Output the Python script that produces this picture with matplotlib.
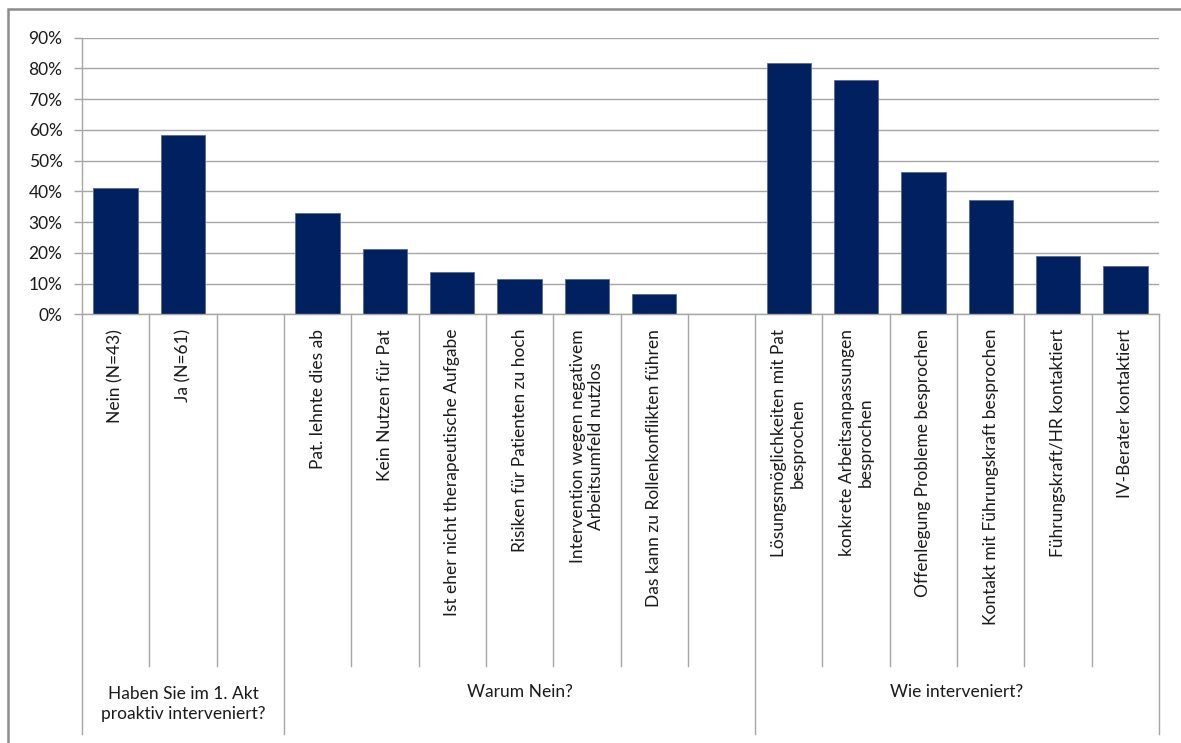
import matplotlib
matplotlib.use("Agg")
import matplotlib.pyplot as plt
import matplotlib.transforms as mtransforms
from matplotlib.ticker import FuncFormatter

# ---- data ----
group_titles = ["Haben Sie im 1. Akt\nproaktiv interveniert?", "Warum Nein?", "Wie interveniert?"]
group1_labels = ["Nein (N=43)", "Ja (N=61)"]
group1_values = [41.0, 58.4]
group2_labels = ["Pat. lehnte dies ab", "Kein Nutzen für Pat", "Ist eher nicht therapeutische Aufgabe",
                 "Risiken für Patienten zu hoch", "Intervention wegen negativem\nArbeitsumfeld nutzlos",
                 "Das kann zu Rollenkonflikten führen"]
group2_values = [33.0, 21.3, 13.7, 11.6, 11.6, 6.7]
group3_labels = ["Lösungsmöglichkeiten mit Pat\nbesprochen", "konkrete Arbeitsanpassungen\nbesprochen",
                 "Offenlegung Probleme besprochen", "Kontakt mit Führungskraft besprochen",
                 "Führungskraft/HR kontaktiert", "IV-Berater kontaktiert"]
group3_values = [81.7, 76.3, 46.2, 37.1, 19.1, 15.8]
y_ticks = [0, 10, 20, 30, 40, 50, 60, 70, 80, 90]

# slots: group1 + empty slot, group2 + empty slot, group3
groups = [(group1_labels, group1_values, 1), (group2_labels, group2_values, 1), (group3_labels, group3_values, 0)]

W, H = 1181, 743
fig = plt.figure(figsize=(W / 100, H / 100), dpi=100)
plt.rcParams['font.family'] = ['Lato', 'DejaVu Sans']

ax_left, ax_right, ax_top, ax_bot = 82, 1159, 37.7, 314.3
ax = fig.add_axes([ax_left / W, 1 - ax_bot / H, (ax_right - ax_left) / W, (ax_bot - ax_top) / H])

# outer border (top and left visible)
fig.patches.append(plt.Rectangle((8 / W, -0.05), 1.2, 1 - 9 / H + 0.05, transform=fig.transFigure,
                                 fill=False, edgecolor='#8c8c8c', linewidth=1.8))

bar_color = '#002060'
grid_c = '#a6a6a6'
text_c = '#1a1a1a'
fs = 12.5

xs, vals, labels = [], [], []
group_bounds = []
pos = 0
for lbls, vs, gap in groups:
    start = pos
    for l, v in zip(lbls, vs):
        xs.append(pos); vals.append(v / 100); labels.append(l)
        pos += 1
    pos += gap
    group_bounds.append((start, pos))
n_slots = pos

ax.bar(xs, vals, width=0.66, color=bar_color, edgecolor='#5a6a90', linewidth=0.6, zorder=3)

ax.set_xlim(-0.5, n_slots - 0.5)
ax.set_ylim(0, 0.9)
ax.set_yticks([t / 100 for t in y_ticks])
ax.yaxis.set_major_formatter(FuncFormatter(lambda v, p: f"{v*100:.0f}%"))
ax.tick_params(axis='y', length=6, width=1, color=grid_c, labelsize=fs, labelcolor=text_c, pad=8)
ax.set_xticks([])
for s in ['top', 'right', 'bottom']:
    ax.spines[s].set_visible(False)
ax.spines['left'].set_color(grid_c)
ax.spines['left'].set_linewidth(1)
ax.grid(axis='y', color=grid_c, linewidth=1, zorder=0)
ax.set_axisbelow(True)

trans = mtransforms.blended_transform_factory(ax.transData, ax.transAxes)
axh = ax_bot - ax_top
def ya(px):
    return (ax_bot - px) / axh

# base line
ax.plot([-0.5, n_slots - 0.5], [0, 0], color=grid_c, lw=1, transform=trans, clip_on=False, zorder=4)

# category separators
group_edges = set()
for s, e in group_bounds:
    group_edges.add(s); group_edges.add(e)
for k in range(n_slots + 1):
    x = k - 0.5
    y_end = ya(734) if k in group_edges else ya(666)
    ax.plot([x, x], [0, y_end], color=grid_c, lw=1, transform=trans, clip_on=False)

# category labels
for x, l in zip(xs, labels):
    ax.text(x, ya(329), l, rotation=90, ha='center', va='top', multialignment='center',
            fontsize=fs, color=text_c, transform=trans, linespacing=1.2)

# group titles
for (s, e), t in zip(group_bounds, group_titles):
    xc = (s - 0.5 + e - 0.5) / 2
    yc = 704 if '\n' in t else 692
    ax.text(xc, ya(yc), t, ha='center', va='center', multialignment='center',
            fontsize=fs, color=text_c, transform=trans, linespacing=1.3)

fig.savefig("out.png", dpi=100)
